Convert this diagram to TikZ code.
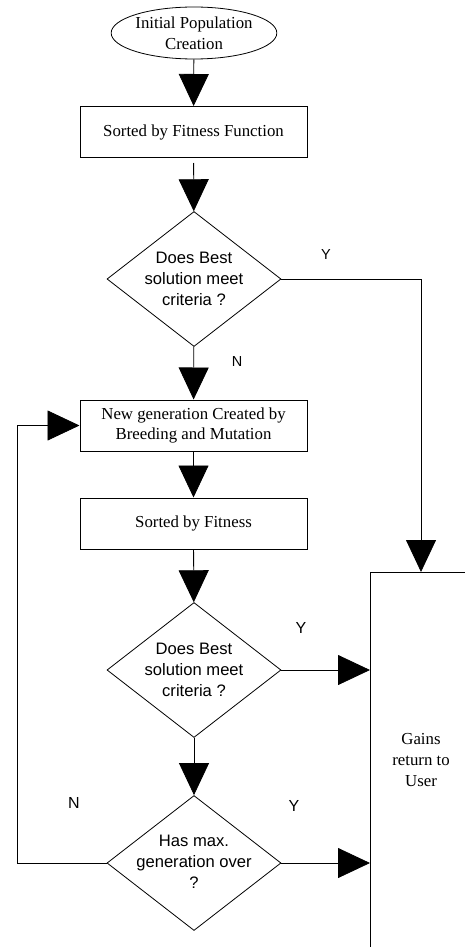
\documentclass[tikz,border=0pt]{standalone}
\usepackage{fontspec}
\setmainfont{Liberation Serif}
\setsansfont{Liberation Sans}
\usetikzlibrary{shapes.geometric,arrows.meta}
\begin{document}
\begin{tikzpicture}[x=1pt,y=-1pt,
  serif/.style={font=\fontsize{16.8}{20.7}\selectfont},
  sans/.style={font=\sffamily\fontsize{16.6}{21}\selectfont},
  proc/.style={draw, line width=1pt, minimum width=227pt, minimum height=51pt, inner sep=0pt, align=center, serif},
  start/.style={draw, ellipse, line width=0.8pt, minimum width=152pt, minimum height=52pt, inner sep=0pt, align=center, serif},
  decision/.style={draw, diamond, line width=0.8pt, minimum width=174pt, minimum height=135pt, inner sep=0pt},
  dtext/.style={align=center, sans},
  yn/.style={font=\sffamily\fontsize{14.5}{16}\selectfont},
  ynb/.style={font=\sffamily\fontsize{16}{18}\selectfont},
  flow/.style={-{Triangle[length=32pt,width=30pt]}, line width=0.8pt}
]
\useasboundingbox (0,0) rectangle (465,947);
\clip (0,0) rectangle (465,947);

\node[start] (init) at (194,33) {Initial Population\\Creation};
\node[proc] (b1) at (193.5,132) {Sorted by Fitness Function};
\node[decision] (d1) at (194,279) {};
\node[dtext] (d1t) at (194,279) {Does Best\\solution meet\\criteria ?};
\node[proc] (b2) at (193.5,425.5) {New generation Created by\\Breeding and Mutation};
\node[proc] (b3) at (193.5,523.5) {Sorted by Fitness};
\node[decision] (d2) at (194,670) {};
\node[dtext] (d2t) at (194,670) {Does Best\\solution meet\\criteria ?};
\node[decision] (d3) at (194,863) {};
\node[dtext] (d3t) at (194,862) {Has max.\\generation over\\?};

\node[draw, line width=1pt, anchor=north west, minimum width=120pt, minimum height=400pt, inner sep=0pt] (gains) at (370,572) {};
\node[serif, align=center] (gt) at (421,760) {Gains\\return to\\User};

\coordinate (gtop) at (421,572);
\coordinate (loopx) at (17,0);

\node[yn] (y1) at (326,255) {Y};
\node[yn] (n1) at (237,362) {N};
\node[ynb] (y2) at (301,628) {Y};
\node[ynb] (n2) at (74,803) {N};
\node[ynb] (y3) at (294,806) {Y};

\draw[flow] (init) -- (b1);
\draw[flow, shorten <=5pt] (b1) -- (d1);
\draw[flow] (d1.east) -| (gtop);
\draw[flow] (d1) -- (b2);
\draw[flow] (b2) -- (b3);
\draw[flow] (b3) -- (d2);
\draw[flow] (d2.east) -- (d2.east -| gains.west);
\draw[flow] (d2) -- (d3);
\draw[flow] (d3.east) -- (d3.east -| gains.west);
\draw[flow] (d3.west) -- (d3.west -| loopx) |- (b2.west);
\end{tikzpicture}
\end{document}
